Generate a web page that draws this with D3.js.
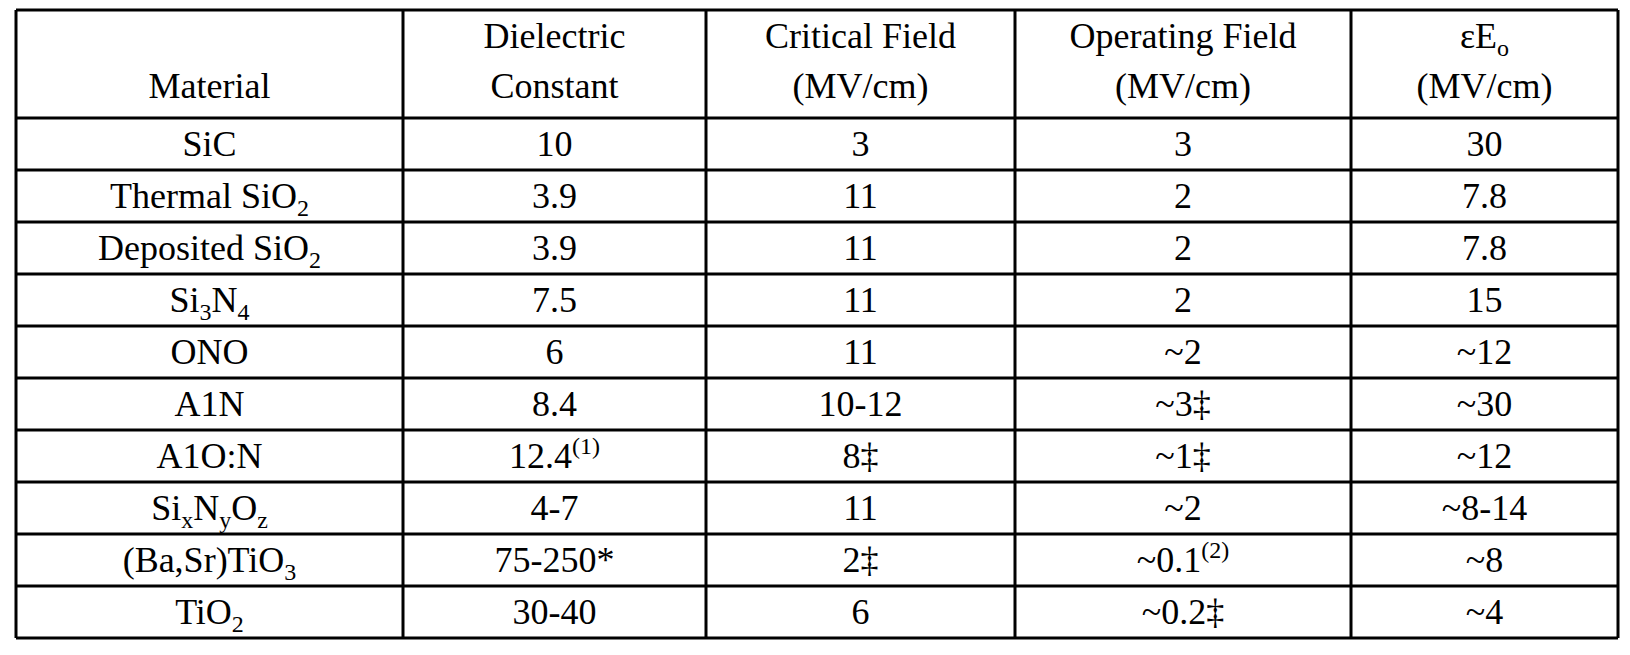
<!DOCTYPE html>
<html><head><meta charset="utf-8">
<script src="https://cdn.jsdelivr.net/npm/d3@7"></script>
<style>body{margin:0;background:#fff}</style>
</head><body><div id="tbl"></div>
<script>
// table content; _{..} = subscript, ^{..} = superscript
const headers = [
  ["", "Material"],
  ["Dielectric", "Constant"],
  ["Critical Field", "(MV/cm)"],
  ["Operating Field", "(MV/cm)"],
  ["εE_{o}", "(MV/cm)"]
];
const materials = ["SiC", "Thermal SiO_{2}", "Deposited SiO_{2}", "Si_{3}N_{4}", "ONO", "A1N", "A1O:N",
  "Si_{x}N_{y}O_{z}", "(Ba,Sr)TiO_{3}", "TiO_{2}"];
const dielectric = ["10", "3.9", "3.9", "7.5", "6", "8.4", "12.4^{(1)}", "4-7", "75-250*", "30-40"];
const critical = ["3", "11", "11", "11", "11", "10-12", "8‡", "11", "2‡", "6"];
const operating = ["3", "2", "2", "2", "~2", "~3‡", "~1‡", "~2", "~0.1^{(2)}", "~0.2‡"];
const epsE = ["30", "7.8", "7.8", "15", "~12", "~30", "~12", "~8-14", "~8", "~4"];

const columns = [materials, dielectric, critical, operating, epsE];
const W = 1630, H = 655;
const colEdges = [16, 403, 706, 1015, 1351, 1618];
const tableTop = 10, headBottom = 118, rowH = 52;
const fontSize = 36;

const svg = d3.select("#tbl").append("svg").attr("width", W).attr("height", H)
  .style("font-family", "'Liberation Serif', 'DejaVu Serif', serif").style("font-size", fontSize + "px");

const y = d3.scaleLinear().domain([0, materials.length]).range([headBottom, headBottom + rowH * materials.length]);
const tableBottom = y(materials.length);

// write text with sub/superscripts
function rich(sel, str) {
  const parts = str.split(/(_\{[^}]*\}|\^\{[^}]*\})/).filter(s => s !== "");
  let shift = 0;
  parts.forEach(p => {
    let dy = 0, size = null, t = p;
    if (p.startsWith("_{")) { t = p.slice(2, -1); dy = 8; size = 24; }
    else if (p.startsWith("^{")) { t = p.slice(2, -1); dy = -14; size = 24; }
    const ts = sel.append("tspan").text(t).attr("dy", dy - shift);
    if (size) ts.attr("font-size", size);
    shift = dy;
  });
}

// header
headers.forEach((h, c) => {
  const cx = (colEdges[c] + colEdges[c + 1]) / 2;
  h.forEach((line, i) => {
    if (!line) return;
    const t = svg.append("text").attr("x", cx).attr("y", 48 + i * 50).attr("text-anchor", "middle");
    rich(t, line);
  });
});

// body
columns.forEach((col, c) => {
  const cx = (colEdges[c] + colEdges[c + 1]) / 2;
  col.forEach((v, r) => {
    const t = svg.append("text").attr("x", cx).attr("y", y(r) + rowH / 2 + 12).attr("text-anchor", "middle");
    rich(t, v);
  });
});

// grid lines
const g = svg.append("g").attr("stroke", "#000").attr("stroke-width", 3);
g.selectAll("line.h").data([tableTop, ...d3.range(materials.length + 1).map(y)]).join("line")
  .attr("class", "h")
  .attr("x1", colEdges[0]).attr("x2", colEdges[5]).attr("y1", d => d).attr("y2", d => d);
g.selectAll("line.v").data(colEdges).join("line").attr("class", "v")
  .attr("x1", d => d).attr("x2", d => d).attr("y1", tableTop).attr("y2", tableBottom);
</script></body></html>
